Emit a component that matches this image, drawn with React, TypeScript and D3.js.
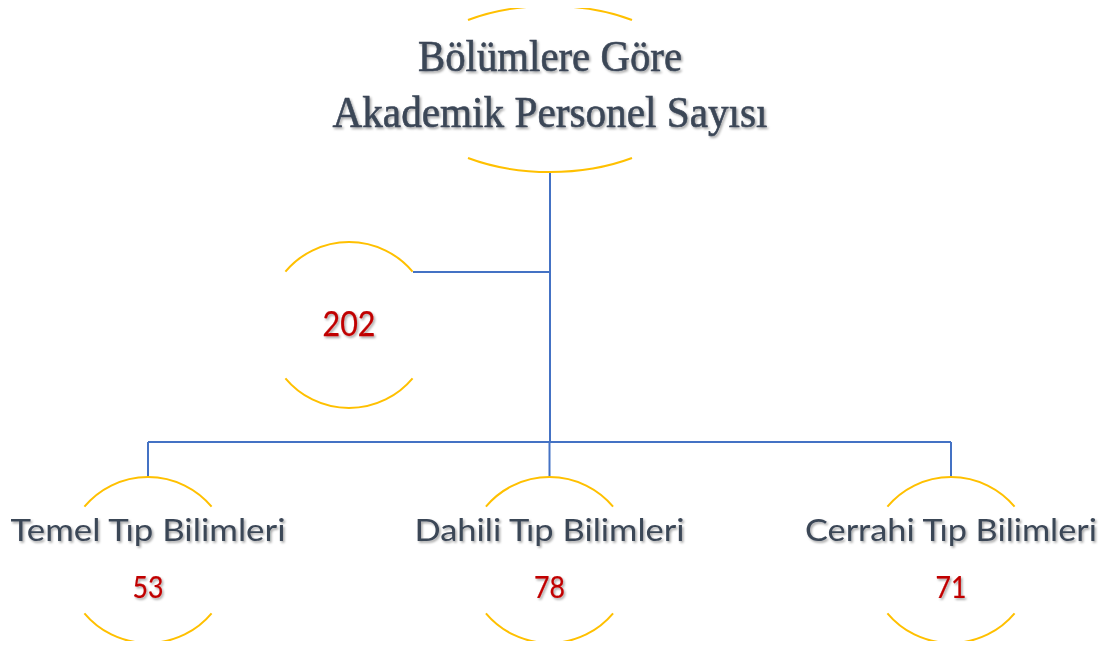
import { useEffect, useRef } from "react";
import * as d3 from "d3";

const titleLines = ["Bölümlere Göre", "Akademik Personel Sayısı"];
const totalValue = 202;
const categories = ["Temel Tıp Bilimleri", "Dahili Tıp Bilimleri", "Cerrahi Tıp Bilimleri"];
const values = [53, 78, 71];

export default function App() {
  const ref = useRef<SVGSVGElement>(null);

  useEffect(() => {
    const width = 1110;
    const height = 649;
    const svg = d3.select(ref.current);
    svg.selectAll("*").remove();
    svg.attr("viewBox", `0 0 ${width} ${height}`);

    const blue = "#4472c4";
    const gold = "#ffc000";
    const textCol = "#3b4657";
    const red = "#c00000";

    const defs = svg.append("defs");
    defs
      .append("filter")
      .attr("id", "shadow")
      .attr("x", "-10%")
      .attr("y", "-30%")
      .attr("width", "120%")
      .attr("height", "160%")
      .append("feDropShadow")
      .attr("dx", 1.5)
      .attr("dy", 1.8)
      .attr("stdDeviation", 1.2)
      .attr("flood-color", "#000")
      .attr("flood-opacity", 0.35);

    const x = d3.scalePoint<string>().domain(categories).range([148, 951]);
    const cx = 550;
    const rootY = { top: 6, bottom: 172 };
    const busY = 442;
    const totalNode = { x: 349, y: 325 };
    const leafY = 560;
    const r = 83;

    // connectors
    const links = svg.append("g").attr("stroke", blue).attr("stroke-width", 2).attr("fill", "none");
    links.append("line").attr("x1", cx).attr("x2", cx).attr("y1", rootY.bottom).attr("y2", busY);
    links
      .append("line")
      .attr("x1", totalNode.x + 64)
      .attr("x2", cx)
      .attr("y1", 272)
      .attr("y2", 272);
    links
      .append("line")
      .attr("x1", x(categories[0])!)
      .attr("x2", x(categories[categories.length - 1])!)
      .attr("y1", busY)
      .attr("y2", busY);
    links
      .selectAll("line.drop")
      .data(categories)
      .join("line")
      .attr("class", "drop")
      .attr("x1", (d) => x(d)!)
      .attr("x2", (d) => x(d)!)
      .attr("y1", busY)
      .attr("y2", leafY - r);

    // circular brackets
    const a = (50 * Math.PI) / 180;
    const bracket = (px: number, py: number) => {
      const top = d3.path();
      top.arc(px, py, r, -Math.PI / 2 - a, -Math.PI / 2 + a);
      const bot = d3.path();
      bot.arc(px, py, r, Math.PI / 2 - a, Math.PI / 2 + a);
      return [top.toString(), bot.toString()];
    };
    const arcs = svg.append("g").attr("stroke", gold).attr("stroke-width", 2).attr("fill", "none");
    bracket(totalNode.x, totalNode.y).forEach((p) => arcs.append("path").attr("d", p));
    categories.forEach((c) =>
      bracket(x(c)!, leafY).forEach((p) => arcs.append("path").attr("d", p)),
    );

    // title ellipse brackets
    const rx = 147.5;
    const ry = 83;
    const ecy = (rootY.top + rootY.bottom) / 2;
    const ex = 82;
    const ey = 69;
    arcs
      .append("path")
      .attr("d", `M${cx - ex},${ecy - ey} A${rx},${ry} 0 0 1 ${cx + ex},${ecy - ey}`);
    arcs
      .append("path")
      .attr("d", `M${cx - ex},${ecy + ey} A${rx},${ry} 0 0 0 ${cx + ex},${ecy + ey}`);

    // title
    const title = svg
      .append("g")
      .attr("font-family", "'Liberation Serif', 'DejaVu Serif', serif")
      .attr("font-size", 45)
      .attr("fill", textCol)
      .attr("stroke", textCol)
      .attr("stroke-width", 0.6)
      .attr("text-anchor", "middle")
      .attr("filter", "url(#shadow)");
    const titleWidths = [264, 435];
    titleLines.forEach((t, i) =>
      title
        .append("text")
        .attr("x", cx)
        .attr("y", 71 + i * 56)
        .attr("textLength", titleWidths[i])
        .attr("lengthAdjust", "spacingAndGlyphs")
        .text(t),
    );

    const sans = "Lato, 'Open Sans', 'Noto Sans', sans-serif";

    svg
      .append("text")
      .attr("x", totalNode.x)
      .attr("y", 336)
      .attr("text-anchor", "middle")
      .attr("font-family", sans)
      .attr("font-size", 34)
      .attr("fill", red)
      .attr("stroke", red)
      .attr("stroke-width", 0.25)
      .attr("textLength", 53)
      .attr("lengthAdjust", "spacingAndGlyphs")
      .attr("filter", "url(#shadow)")
      .text(totalValue);

    const labelWidths = [275, 270, 292];
    const leaves = svg
      .append("g")
      .selectAll("g")
      .data(categories)
      .join("g")
      .attr("font-family", sans)
      .attr("text-anchor", "middle")
      .attr("filter", "url(#shadow)");
    leaves
      .append("text")
      .attr("x", (d) => x(d)!)
      .attr("y", 541)
      .attr("font-size", 31)
      .attr("fill", textCol)
      .attr("textLength", (_, i) => labelWidths[i])
      .attr("lengthAdjust", "spacingAndGlyphs")
      .text((d) => d);
    leaves
      .append("text")
      .attr("x", (d) => x(d)!)
      .attr("y", 598)
      .attr("font-size", 30)
      .attr("fill", red)
      .attr("stroke", red)
      .attr("stroke-width", 0.2)
      .attr("textLength", 31)
      .attr("lengthAdjust", "spacingAndGlyphs")
      .text((_, i) => values[i]);
  }, []);

  return <svg ref={ref} width={1110} height={649} style={{ display: "block", margin: "-8px" }} />;
}
